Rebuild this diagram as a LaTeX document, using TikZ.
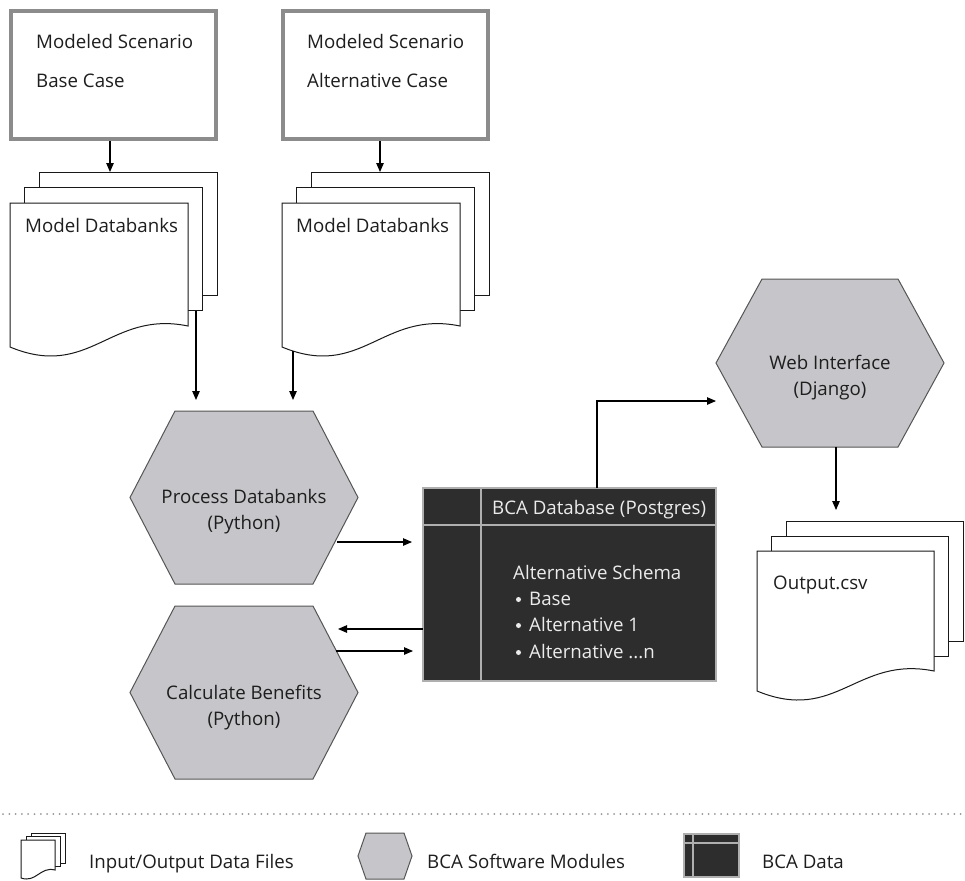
\documentclass[tikz,border=0pt]{standalone}
\usepackage{fontspec}
\setmainfont{Open Sans}
\usetikzlibrary{arrows.meta}
\definecolor{hexfill}{RGB}{198,197,201}
\definecolor{hexline}{RGB}{85,85,85}
\definecolor{dbfill}{RGB}{45,45,45}
\definecolor{dbline}{RGB}{175,175,175}
\definecolor{boxline}{RGB}{140,140,140}
\definecolor{txt}{RGB}{30,30,30}
\definecolor{dbtxt}{RGB}{235,235,235}
\definecolor{dotgray}{RGB}{150,150,150}
\tikzset{
  lbl/.style={font=\fontsize{18.7}{26}\selectfont, text=txt, inner sep=0pt},
  dblbl/.style={lbl, text=dbtxt},
  topbox/.style={draw=boxline, line width=3.5pt, fill=white, inner sep=0pt},
  docline/.style={draw=black!90, line width=1pt, fill=white},
  hexmod/.style={draw=hexline, line width=1pt, fill=hexfill},
  dbbox/.style={draw=dbline, line width=1.2pt, fill=dbfill, inner sep=0pt},
  dbsep/.style={draw=dbline, line width=1.2pt},
  dbbullet/.style={circle, fill=dbtxt, inner sep=0pt, minimum size=5pt},
  conn/.style={draw=black, line width=1.1pt, -{Triangle[length=9pt,width=7.5pt]}},
  dotrule/.style={draw=dotgray, line width=2pt, line cap=round, dash pattern=on 0pt off 6.3pt}
}
% x0 y0 w hr hl dx dy
\newcommand\docstack[7]{%
  \draw[docline] (#1+2*#6,#2-2*#7) rectangle (#1+2*#6+#3,#2-2*#7+#4);
  \draw[docline] (#1+#6,#2-#7) rectangle (#1+#6+#3,#2-#7+#4);
  \draw[docline] (#1,#2) -- (#1+#3,#2) -- (#1+#3,#2+#4)
     .. controls (#1+0.562*#3,#2+0.87*#4) and (#1+0.449*#3,#2+1.44*#4) .. (#1,#2+#5) -- cycle;
}
% cx cy hw hh inset
\newcommand\hexshape[5]{%
  \draw[hexmod] (#1-#3,#2) -- (#1-#3+#5,#2-#4) -- (#1+#3-#5,#2-#4) -- (#1+#3,#2)
     -- (#1+#3-#5,#2+#4) -- (#1-#3+#5,#2+#4) -- cycle;
}
\begin{document}
\begin{tikzpicture}[x=1pt,y=-1pt]
\useasboundingbox[fill=white] (0,0) rectangle (965,880);

% ---- top scenario boxes
\node[topbox, minimum width=205pt, minimum height=128pt] (basebox) at (113.5,75) {};
\node[topbox, minimum width=205pt, minimum height=128pt] (altbox) at (385.5,75) {};
\node[lbl, anchor=base west] (basel1) at (36,48.7) {Modeled Scenario};
\node[lbl, anchor=base west] (basel2) at (36,87.7) {Base Case};
\node[lbl, anchor=base west] (altl1) at (307,48.7) {Modeled Scenario};
\node[lbl, anchor=base west] (altl2) at (307,87.7) {Alternative Case};

% ---- model databank stacks
\docstack{10}{203}{178}{123}{144}{14.5}{15.5}
\docstack{282}{203}{178}{123}{144}{14.5}{15.5}
\node[lbl, anchor=base west] (db1lbl) at (25,232.7) {Model Databanks};
\node[lbl, anchor=base west] (db2lbl) at (296,232.7) {Model Databanks};

% ---- hexagon modules
\hexshape{244}{497.5}{114}{86.5}{45}
\hexshape{244}{692.5}{114}{86.5}{45}
\hexshape{830}{363}{114}{84}{46}
\node[lbl, align=center] (proc) at (244,512) {Process Databanks\\(Python)};
\node[lbl, align=center] (calc) at (244,707.5) {Calculate Benefits\\(Python)};
\node[lbl, align=center] (web) at (830,378) {Web Interface\\(Django)};

% ---- database
\node[dbbox, minimum width=293pt, minimum height=193pt] (db) at (569.5,584.5) {};
\draw[dbsep] (481,488) -- (481,681);
\draw[dbsep] (423,525) -- (716,525);
\node[dblbl, anchor=base west] (dbtitle) at (492,514.7) {BCA Database (Postgres)};
\node[dblbl, anchor=base west] (schema) at (513,579.7) {Alternative Schema};
\node[dbbullet] (b1) at (518.5,599.5) {};
\node[dbbullet] (b2) at (518.5,625.5) {};
\node[dbbullet] (b3) at (518.5,652.5) {};
\node[dblbl, anchor=base west] (s1) at (529,605.7) {Base};
\node[dblbl, anchor=base west] (s2) at (529,631.7) {Alternative 1};
\node[dblbl, anchor=base west] (s3) at (529,658.7) {Alternative ...n};

% ---- output stack
\docstack{757}{551}{177}{120}{140}{14.5}{15}
\node[lbl, anchor=base west] (outlbl) at (773,589.7) {Output.csv};

% ---- connector end points
\coordinate (a1s) at (110,141);  \coordinate (a1e) at (110,172);
\coordinate (a2s) at (380,141);  \coordinate (a2e) at (380,172);
\coordinate (a3s) at (196,311);  \coordinate (a3e) at (196,400);
\coordinate (a4s) at (293,351);  \coordinate (a4e) at (293,400);
\coordinate (a5s) at (337,542);  \coordinate (a5e) at (412,542);
\coordinate (a6s) at (423,629);  \coordinate (a6e) at (338,629);
\coordinate (a7s) at (336,651);  \coordinate (a7e) at (413,651);
\coordinate (a8s) at (597,488);  \coordinate (a8m) at (597,401); \coordinate (a8e) at (716,401);
\coordinate (a9s) at (836,447);  \coordinate (a9e) at (836,510);

\draw[conn] (a1s) -- (a1e);
\draw[conn] (a2s) -- (a2e);
\draw[conn] (a3s) -- (a3e);
\draw[conn] (a4s) -- (a4e);
\draw[conn] (a5s) -- (a5e);
\draw[conn] (a6s) -- (a6e);
\draw[conn] (a7s) -- (a7e);
\draw[conn] (a8s) -- (a8m) -- (a8e);
\draw[conn] (a9s) -- (a9e);

% ---- legend
\coordinate (rulel) at (3,814);
\coordinate (ruler) at (965,814);
\draw[dotrule] (rulel) -- (ruler);
\docstack{21}{840}{34}{30}{38}{5}{3.5}
\node[lbl, anchor=base west] (leg1) at (89,868.7) {Input/Output Data Files};
\hexshape{385}{856}{27}{23}{8}
\node[lbl, anchor=base west] (leg2) at (427,868.7) {BCA Software Modules};
\node[dbbox, minimum width=55pt, minimum height=43pt] (legdb) at (711.5,855.5) {};
\draw[dbsep] (693,834) -- (693,877);
\draw[dbsep] (684,843) -- (739,843);
\node[lbl, anchor=base west] (leg3) at (762,868.7) {BCA Data};
\end{tikzpicture}
\end{document}
